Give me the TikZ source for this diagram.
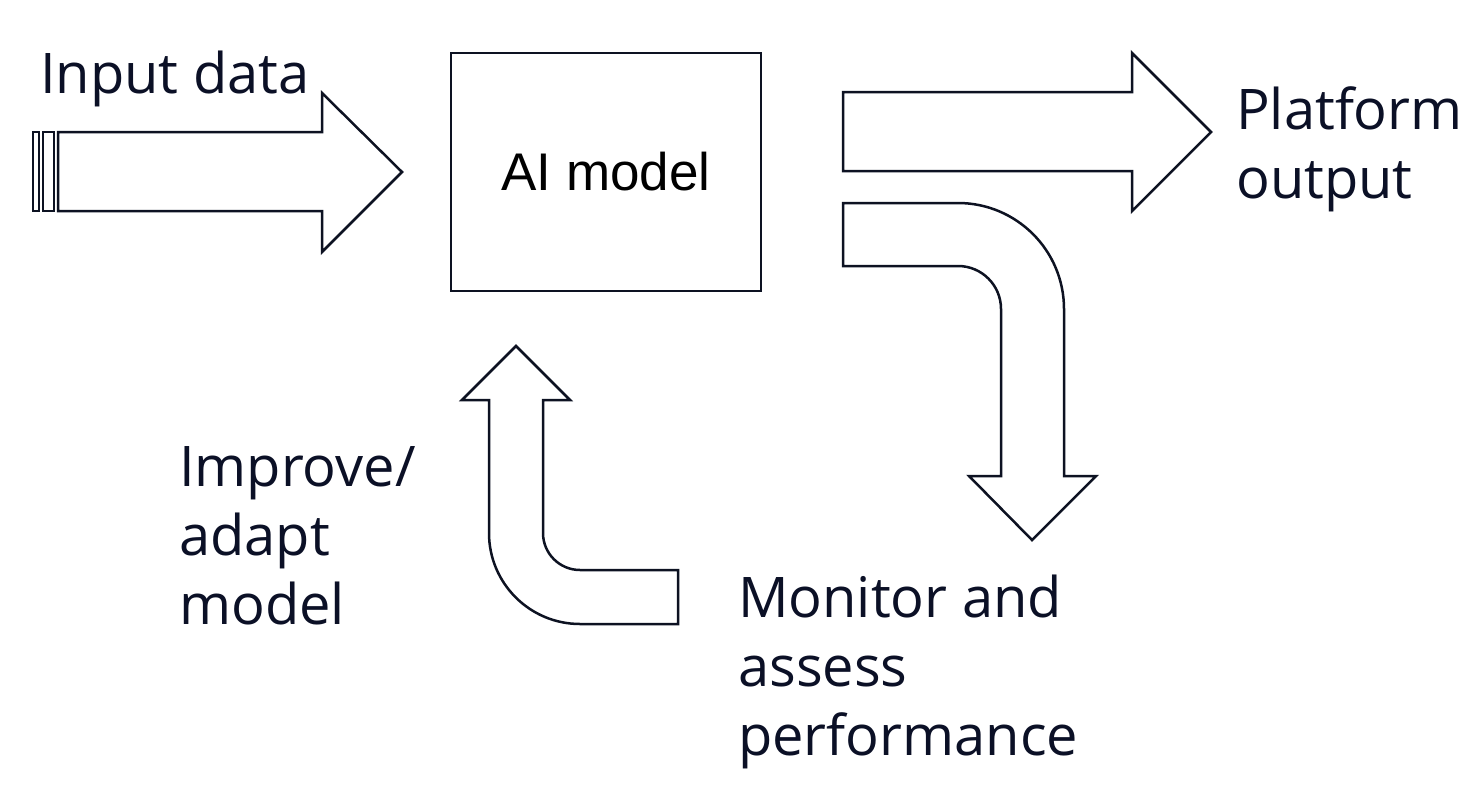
\documentclass[tikz,border=0pt]{standalone}
\usepackage{fontspec}
\setmainfont{Open Sans}
\newfontfamily\boxfont{Liberation Sans}
\usepackage{tikz}
\usetikzlibrary{positioning, calc}
\definecolor{ink}{HTML}{0B1026}
\definecolor{edge}{HTML}{0D1222}

\begin{document}
\begin{tikzpicture}[
  x=1pt, y=-1pt,
  blockarrow/.style={
    draw=edge,
    line width=2.5pt,
    line join=miter,
    fill=white
  },
  modelbox/.style={
    rectangle,
    draw=edge,
    line width=2.5pt,
    fill=white,
    minimum width=310pt,
    minimum height=238pt,
    inner sep=0pt,
    font=\boxfont\fontsize{53}{60}\selectfont,
    text=black
  },
  caption/.style={
    anchor=base west,
    align=left,
    inner sep=0pt,
    font=\fontsize{56}{69}\selectfont,
    text=ink
  }
]
  \useasboundingbox (0,0) rectangle (1482,800);
  \fill[white] (0,0) rectangle (1482,800);

  \node[modelbox] (model) at (606,172) {AI model};

  \draw[blockarrow] (33,132) rectangle (39,211);
  \draw[blockarrow] (43,132) rectangle (54,211);
  \draw[blockarrow] (58,132) -- (322,132) -- (322,93) -- (402,172)
    -- (322,252) -- (322,211) -- (58,211) -- cycle;

  \draw[blockarrow] (843,92) -- (1132,92) -- (1132,53) -- (1211,132)
    -- (1132,211) -- (1132,171) -- (843,171) -- cycle;

  \draw[blockarrow] (843,203) -- (958,203) arc[start angle=-90, end angle=0, radius=106]
    -- (1064,476) -- (1096,476) -- (1032,540) -- (969,476) -- (1001,476)
    -- (1001,309) arc[start angle=0, end angle=-90, radius=43]
    -- (843,266) -- cycle;

  \draw[blockarrow] (516,346) -- (570,400) -- (543,400)
    -- (543,533) arc[start angle=180, end angle=90, radius=37]
    -- (678,570) -- (678,624) -- (580,624) arc[start angle=90, end angle=180, radius=91]
    -- (489,400) -- (462,400) -- cycle;

  \node[caption] (input) at (40,93) {Input data};
  \node[caption] (output) at (1236,198) {Platform\\output};
  \node[caption] (improve) at (179,624) {Improve/\\adapt\\model};
  \node[caption] (monitor) at (738,755) {Monitor and\\assess\\performance};
\end{tikzpicture}
\end{document}
